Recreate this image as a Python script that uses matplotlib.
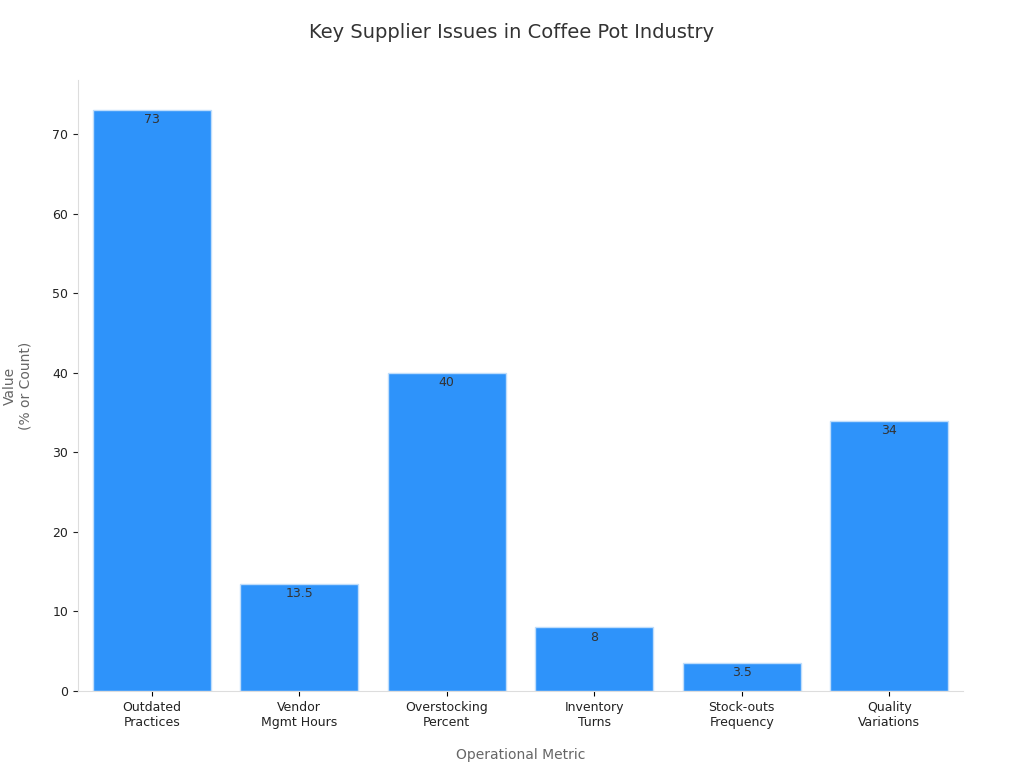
import matplotlib
matplotlib.use("Agg")
import matplotlib.pyplot as plt

categories = ["Outdated\nPractices", "Vendor\nMgmt Hours", "Overstocking\nPercent",
              "Inventory\nTurns", "Stock-outs\nFrequency", "Quality\nVariations"]
values = [73, 13.5, 40, 8, 3.5, 34]
labels = ["73", "13.5", "40", "8", "3.5", "34"]

fig = plt.figure(figsize=(10.24, 7.68), dpi=100)
ax = fig.add_axes([78/1024, 1-691/768, (963-78)/1024, (691-80)/768])
x = range(len(values))
bars = ax.bar(x, values, width=0.8, color="#2E93FA", edgecolor="#BFDDFB", linewidth=1)
for xi, v, l in zip(x, values, labels):
    ax.text(xi, v - 0.4, l, ha="center", va="top", fontsize=9, color="#333333")
ax.set_xlim(-0.5, 5.5)
ax.set_ylim(0, 76.8)
ax.set_xticks(list(x))
ax.set_xticklabels(categories, fontsize=9, color="#222222")
ax.set_yticks(range(0, 80, 10))
ax.tick_params(axis="y", labelsize=9, colors="#222222")
for s in ["top", "right"]:
    ax.spines[s].set_visible(False)
for s in ["left", "bottom"]:
    ax.spines[s].set_color("#DDDDDD")
ax.set_xlabel("Operational Metric", fontsize=10, color="#666666", labelpad=14)
ax.set_ylabel("Value\n(% or Count)", fontsize=10, color="#666666", labelpad=14)
fig.text(0.5, 1-33/768, "Key Supplier Issues in Coffee Pot Industry", ha="center", va="center",
         fontsize=14, color="#333333")
fig.savefig("out.png", dpi=100)
